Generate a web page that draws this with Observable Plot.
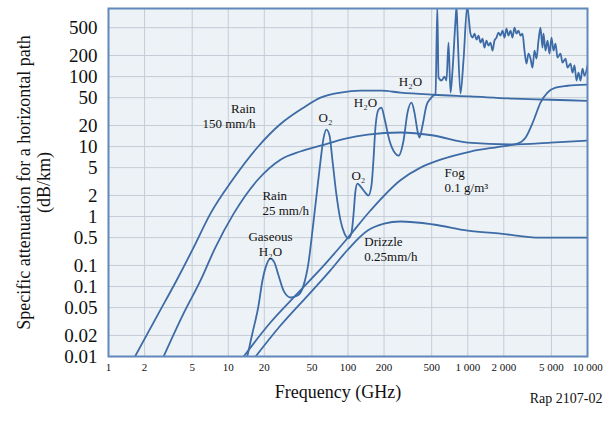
<!DOCTYPE html>
<html><head><meta charset="utf-8">
<script src="https://cdn.jsdelivr.net/npm/d3@7"></script>
<script src="https://cdn.jsdelivr.net/npm/@observablehq/plot@0.6"></script>
<style>body{margin:0;background:#fff;}</style>
</head><body><div id="chart"></div>
<script>
// Axis ticks
const xTicks = [1, 2, 5, 10, 20, 50, 100, 200, 500, 1000, 2000, 5000, 10000];
const xTickLabels = ["1", "2", "5", "10", "20", "50", "100", "200", "500", "1 000", "2 000", "5 000", "10 000"];
const yTicks = [500, 200, 100, 50, 20, 10, 5, 2, 1, 0.5, 0.2, 0.1, 0.05, 0.02, 0.01];
const yTickLabels = ["500", "200", "100", "50", "20", "10", "5", "2", "1", "0.5", "0.1", "0.1", "0.05", "0.02", "0.01"];

// Rain 150 mm/h
const rain150Freq = [1.55, 2.61, 3.7, 5.13, 7.1, 10.8, 17.5, 27.3, 42.5, 59, 86.6, 127, 190, 274, 518, 1054, 2410, 4911, 10000];
const rain150Att  = [0.008, 0.041, 0.122, 0.36, 1.1, 3.3, 9.7, 21, 36, 50, 59, 63, 63, 59, 55, 52, 48.5, 46.7, 45];

// Rain 25 mm/h
const rain25Freq = [2.72, 4.23, 5.87, 7.8, 11.1, 17.5, 27.3, 40, 59, 95.3, 146, 274, 518, 1000, 2410, 4911, 10000];
const rain25Att  = [0.008, 0.041, 0.122, 0.36, 1.1, 3.3, 6.5, 8.5, 10.3, 13.0, 14.8, 15.9, 14.4, 11.4, 10.7, 11.4, 12.2];

// Fog 0.1 g/m3
const fogFreq = [12.2, 22.5, 40, 64.9, 98.6, 154, 274, 403, 592, 1054, 1877, 2603, 3034, 3540, 4050, 4634, 5405, 6808, 10000];
const fogAtt  = [0.008, 0.0306, 0.088, 0.213, 0.485, 1.22, 3.3, 5, 6.5, 8.5, 10, 11, 13.4, 23.4, 42.5, 59, 69.6, 74, 77];

// Drizzle 0.25 mm/h
const drizzleFreq = [15.3, 27.3, 48.6, 71, 98.6, 146, 200, 274, 518, 1000, 1877, 4050, 10000];
const drizzleAtt  = [0.008, 0.0277, 0.082, 0.169, 0.33, 0.63, 0.79, 0.85, 0.77, 0.63, 0.57, 0.5, 0.5];

// Gaseous absorption (H2O, O2)
const gasFreq = [14, 15.9, 17.9, 19.3, 20.9, 22.5, 24.3, 26.3, 28.9, 33.1, 37.9, 42.5, 46.8, 50.5, 54.6, 59, 62.4, 66.1, 70.1, 74.2, 80.2, 86.6, 93.5, 101, 107, 111, 115.5, 120, 127, 137, 148, 157, 163, 170, 180, 190.5, 202, 222, 245, 264, 291, 314, 339, 359, 380, 395, 419, 452, 489, 518, 538, 557, 570, 604, 640, 664, 691, 718, 746, 790, 806, 821, 870, 921, 990,
  1054, 1096, 1139, 1184, 1230, 1278, 1328, 1380, 1434, 1490, 1549, 1609, 1672, 1738, 1806, 1877, 1951, 2027, 2106, 2189, 2275, 2364, 2457, 2553, 2653, 2757, 2865, 2977, 3094, 3215, 3342, 3473, 3609, 3750, 3897, 4050, 4209, 4291, 4459, 4634, 4816, 5005, 5201, 5405, 5617, 5950, 6183, 6551, 6808, 7211, 7494, 7788, 8093, 8410, 8740, 9083, 9439, 10000];
const gasAtt = [0.008, 0.0213, 0.0535, 0.122, 0.206, 0.25, 0.22, 0.144, 0.088, 0.0697, 0.0744, 0.103, 0.22, 0.63, 2, 6.3, 13, 17.5, 14.4, 6.3, 2, 0.88, 0.57, 0.49, 0.59, 1.03, 2.35, 2.96, 2.7, 2.28, 2.0, 2.77, 6.3, 20, 33.8, 36, 25, 12.2, 8.2, 7.4, 12.2, 30.6, 42.5, 30.6, 17, 13.4, 20, 38.5, 48.5, 53.6, 55, 1000, 97, 88, 100, 88, 306, 59, 122, 631, 1000, 454, 57, 169, 1000,
  411, 361, 411, 338, 385, 306, 349, 260, 327, 277, 306, 235, 327, 361, 425, 385, 454, 361, 485, 385, 454, 361, 501, 411, 454, 385, 411, 235, 153, 213, 181, 134, 235, 181, 327, 501, 260, 411, 235, 327, 213, 361, 235, 296, 187, 213, 158, 181, 134, 153, 114, 144, 88, 114, 88, 130, 103, 144];

// Curve annotations
const noteText = ["Rain\n150 mm/h", "O₂", "H₂O", "H₂O", "O₂", "Rain\n25 mm/h", "Gaseous\nH₂O", "Drizzle\n0.25mm/h", "Fog\n0.1 g/m³"];
const noteFreq = [16.9, 64.9, 140, 332, 122, 19.3, 22.5, 137, 640];
const noteAtt  = [27.3, 25.9, 42.5, 84.9, 3.85, 1.56, 0.41, 0.343, 3.38];
const noteAnchor = ["end", "middle", "middle", "middle", "middle", "start", "middle", "start", "start"];

const series = [
  {name: "rain150", f: rain150Freq, a: rain150Att},
  {name: "rain25", f: rain25Freq, a: rain25Att},
  {name: "fog", f: fogFreq, a: fogAtt},
  {name: "drizzle", f: drizzleFreq, a: drizzleAtt},
  {name: "gas", f: gasFreq, a: gasAtt}
];
const rows = series.flatMap(s => s.f.map((f, i) => ({series: s.name, f, a: s.a[i]})));
const notes = noteText.map((t, i) => ({t, f: noteFreq[i], a: noteAtt[i], anchor: noteAnchor[i]}));
const xLab = new Map(xTicks.map((v, i) => [v, xTickLabels[i]]));
const yLab = new Map(yTicks.map((v, i) => [v, yTickLabels[i]]));

const serif = "'Liberation Serif', 'Times New Roman', serif";
const lineColor = "#3d6ba6";

const chart = Plot.plot({
  width: 616,
  height: 422,
  marginLeft: 108,
  marginRight: 29,
  marginTop: 8,
  marginBottom: 66,
  style: {fontFamily: serif, color: "#111", background: "#fff"},
  x: {type: "log", domain: [1, 10000], axis: null},
  y: {type: "log", domain: [0.01, 940], axis: null},
  marks: [
    Plot.frame({fill: "#edf2f7", stroke: "none"}),
    Plot.ruleX(xTicks, {stroke: "#c4ccd5", strokeWidth: 1}),
    Plot.ruleY(yTicks, {stroke: "#c4ccd5", strokeWidth: 1}),
    Plot.line(rows, {x: "f", y: "a", z: "series", stroke: lineColor, strokeWidth: 1.8, curve: "monotone-x", clip: true}),
    ...["start", "middle", "end"].map(anc => Plot.text(notes.filter(d => d.anchor === anc), {
      x: "f", y: "a", text: "t", textAnchor: anc, fontSize: 13, lineHeight: 1.15, fill: "#111"
    })),
    Plot.frame({stroke: "#6088bb", strokeWidth: 2}),
    // tick labels
    Plot.text(xTicks, {x: d => d, frameAnchor: "bottom", dy: 14, text: d => xLab.get(d), textAnchor: "middle", fontSize: 11, fill: "#111"}),
    Plot.text(yTicks, {y: d => d, frameAnchor: "left", dx: -11, text: d => yLab.get(d), textAnchor: "end", fontSize: 19, fill: "#111"}),
    // titles
    Plot.text(["Specific attenuation for a horizontal path"], {frameAnchor: "left", dx: -84, rotate: -90, textAnchor: "middle", fontSize: 18, fill: "#111"}),
    Plot.text(["(dB/km)"], {frameAnchor: "left", dx: -64, rotate: -90, textAnchor: "middle", fontSize: 18, fill: "#111"}),
    Plot.text(["Frequency (GHz)"], {frameAnchor: "bottom", dx: -10, dy: 41, textAnchor: "middle", fontSize: 18, fill: "#111"}),
    Plot.text(["Rap 2107-02"], {frameAnchor: "bottom-right", dx: 15, dy: 46, textAnchor: "end", fontSize: 14, fill: "#111"})
  ]
});
document.getElementById("chart").appendChild(chart);
</script>
</body></html>
